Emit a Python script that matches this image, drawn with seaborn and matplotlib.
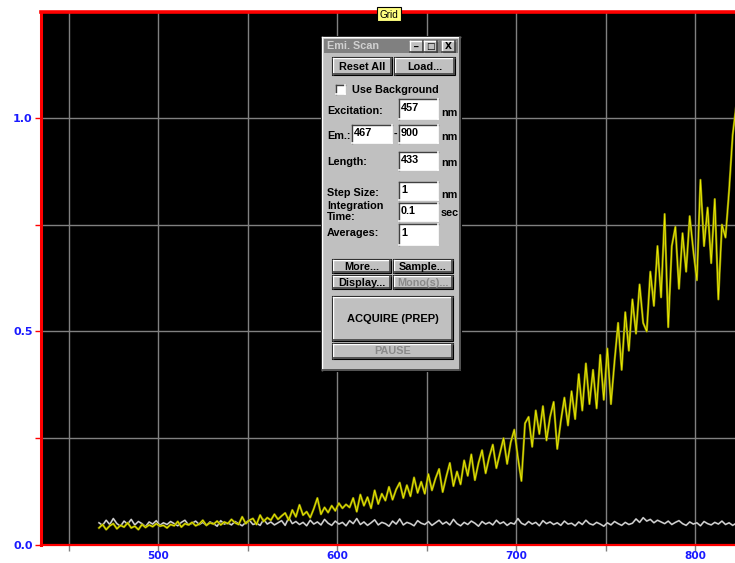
import matplotlib
matplotlib.use("Agg")
import matplotlib.pyplot as plt
from matplotlib.patches import Rectangle
from matplotlib.ticker import FixedLocator, FixedFormatter
import seaborn as sns
import pandas as pd

# ---------------- data ----------------
wavelength = list(range(467, 824, 2))

sample = [
    0.040, 0.048, 0.036, 0.045, 0.050, 0.038, 0.046, 0.042, 0.052, 0.040,
    0.044, 0.036, 0.048, 0.041, 0.047, 0.043, 0.050, 0.044, 0.046, 0.040,
    0.048, 0.045, 0.055, 0.042, 0.050, 0.047, 0.053, 0.045, 0.049, 0.058,
    0.046, 0.052, 0.049, 0.056, 0.047, 0.054, 0.050, 0.060, 0.052, 0.048,
    0.066, 0.050, 0.058, 0.062, 0.048, 0.070, 0.055, 0.064, 0.058, 0.072,
    0.060, 0.068, 0.075, 0.058, 0.082, 0.066, 0.094, 0.070, 0.078, 0.064,
    0.085, 0.110, 0.072, 0.088, 0.076, 0.092, 0.080, 0.098, 0.086, 0.095,
    0.088, 0.110, 0.078, 0.118, 0.092, 0.112, 0.086, 0.128, 0.096, 0.120,
    0.104, 0.136, 0.106, 0.130, 0.146, 0.110, 0.140, 0.114, 0.158, 0.122,
    0.148, 0.120, 0.166, 0.128, 0.156, 0.178, 0.124, 0.160, 0.192, 0.138,
    0.172, 0.142, 0.198, 0.162, 0.212, 0.152, 0.192, 0.222, 0.168, 0.206,
    0.235, 0.180, 0.215, 0.250, 0.190, 0.240, 0.270, 0.205, 0.150, 0.285,
    0.300, 0.230, 0.315, 0.260, 0.325, 0.245, 0.300, 0.335, 0.225, 0.290,
    0.345, 0.280, 0.360, 0.295, 0.400, 0.315, 0.425, 0.330, 0.410, 0.320,
    0.445, 0.340, 0.460, 0.330, 0.430, 0.520, 0.410, 0.545, 0.455, 0.575,
    0.495, 0.610, 0.520, 0.500, 0.640, 0.560, 0.700, 0.580, 0.775, 0.510,
    0.700, 0.745, 0.600, 0.730, 0.640, 0.770, 0.690, 0.620, 0.855, 0.700,
    0.790, 0.660, 0.810, 0.575, 0.750, 0.720, 0.830, 0.960, 1.030,
]

background = [
    0.052, 0.046, 0.058, 0.048, 0.062, 0.050, 0.044, 0.056, 0.049, 0.060,
    0.047, 0.055, 0.050, 0.043, 0.054, 0.049, 0.057, 0.046, 0.052, 0.048,
    0.055, 0.050, 0.045, 0.053, 0.058, 0.047, 0.051, 0.056, 0.048, 0.053,
    0.046, 0.054, 0.050, 0.044, 0.057, 0.049, 0.052, 0.047, 0.055, 0.050,
    0.045, 0.053, 0.058, 0.048, 0.051, 0.046, 0.060, 0.049, 0.054, 0.047,
    0.052, 0.057, 0.046, 0.064, 0.050, 0.055, 0.048, 0.053, 0.045, 0.058,
    0.049, 0.054, 0.047, 0.060, 0.051, 0.046, 0.056, 0.049, 0.053, 0.045,
    0.057, 0.050, 0.062, 0.048, 0.054, 0.046, 0.052, 0.059, 0.047, 0.053,
    0.050, 0.044, 0.056, 0.049, 0.061, 0.047, 0.053, 0.050, 0.045, 0.057,
    0.051, 0.048, 0.055, 0.046, 0.052, 0.058, 0.049, 0.054, 0.047, 0.060,
    0.050, 0.045, 0.053, 0.048, 0.056, 0.051, 0.044, 0.055, 0.049, 0.053,
    0.047, 0.058, 0.050, 0.054, 0.046, 0.052, 0.049, 0.062, 0.051, 0.047,
    0.055, 0.049, 0.053, 0.045, 0.057, 0.050, 0.054, 0.048, 0.052, 0.046,
    0.056, 0.049, 0.051, 0.045, 0.054, 0.048, 0.058, 0.050, 0.047, 0.053,
    0.049, 0.044, 0.052, 0.047, 0.055, 0.050, 0.046, 0.053, 0.048, 0.051,
    0.061, 0.053, 0.064, 0.056, 0.060, 0.052, 0.058, 0.054, 0.050, 0.056,
    0.048, 0.053, 0.057, 0.050, 0.046, 0.054, 0.049, 0.052, 0.045, 0.055,
    0.050, 0.047, 0.053, 0.049, 0.056, 0.048, 0.052, 0.046, 0.051,
]

x_major = [500, 600, 700, 800]
x_minor = [450, 550, 650, 750]
x_labels = ["500", "600", "700", "800"]
y_major = [0.0, 0.5, 1.0]
y_minor = [0.25, 0.75]
y_labels = ["0.0", "0.5", "1.0"]

# ---------------- figure ----------------
W, H = 735, 563
fig = plt.figure(figsize=(W / 100, H / 100), dpi=100)
fig.patch.set_facecolor("white")

ax = fig.add_axes([41 / W, 18 / H, (W - 41) / W, 533 / H])
ax.set_facecolor("black")

df = pd.DataFrame({"wl": wavelength, "sample": sample, "bg": background})
sns.lineplot(data=df, x="wl", y="bg", ax=ax, color="#9c9c9c", lw=1.3, zorder=3)
sns.lineplot(data=df, x="wl", y="bg", ax=ax, color="#e8e8e8", lw=0.5, zorder=3)
sns.lineplot(data=df, x="wl", y="sample", ax=ax, color="#8c8c00", lw=1.6, zorder=4)
sns.lineplot(data=df, x="wl", y="sample", ax=ax, color="#eeee00", lw=0.6, zorder=5)

ax.set_xlim(434.6, 822.3)
ax.set_ylim(0, 1.248)
ax.xaxis.set_major_locator(FixedLocator(x_major))
ax.xaxis.set_major_formatter(FixedFormatter(x_labels))
ax.xaxis.set_minor_locator(FixedLocator(x_minor))
ax.yaxis.set_major_locator(FixedLocator(y_major))
ax.yaxis.set_major_formatter(FixedFormatter(y_labels))
ax.yaxis.set_minor_locator(FixedLocator(y_minor))
ax.grid(True, which="both", color="#808080", lw=1.0, zorder=1)
ax.set_axisbelow(True)
ax.set_xlabel("")
ax.set_ylabel("")

ax.spines["right"].set_visible(False)
ax.spines["left"].set_color("#ff0000")
ax.spines["left"].set_linewidth(2.2)
ax.spines["top"].set_color("#ff0000")
ax.spines["top"].set_linewidth(2.6)
ax.spines["bottom"].set_color("#ff0000")
ax.spines["bottom"].set_linewidth(1.6)

ax.tick_params(axis="x", which="both", colors="#808080", length=4, width=1, direction="out",
               labelcolor="#1a1aff", labelsize=7.6, pad=0.5)
ax.tick_params(axis="y", which="both", colors="#ff0000", length=4, width=1, direction="out",
               labelcolor="#1a1aff", labelsize=8, pad=2)
for lab in ax.get_xticklabels() + ax.get_yticklabels():
    lab.set_fontweight("bold")
    lab.set_family("DejaVu Sans")

# ---------------- overlay (dialog and "Grid" tag) ----------------
ov = fig.add_axes([0, 0, 1, 1], zorder=10)
ov.set_xlim(0, W)
ov.set_ylim(H, 0)
ov.axis("off")
ov.patch.set_alpha(0)

FONT = dict(family=["Liberation Sans", "DejaVu Sans"], fontweight="bold", fontsize=7.8)
GRAY = "#c0c0c0"


def rect(x0, y0, x1, y1, fc, ec="none", lw=0):
    ov.add_patch(Rectangle((x0, y0), x1 - x0, y1 - y0, facecolor=fc, edgecolor=ec, linewidth=lw))


def bevel(x0, y0, x1, y1, raised=True):
    light, dark = ("white", "#404040") if raised else ("#404040", "white")
    ov.plot([x0, x1], [y0, y0], color=light, lw=1)
    ov.plot([x0, x0], [y0, y1], color=light, lw=1)
    ov.plot([x0, x1], [y1, y1], color=dark, lw=1.2)
    ov.plot([x1, x1], [y0, y1], color=dark, lw=1.2)


def button(x0, y0, x1, y1, text, enabled=True, size=7.8):
    rect(x0, y0, x1, y1, GRAY, ec="black", lw=0.8)
    bevel(x0 + 1, y0 + 1, x1 - 1, y1 - 1, raised=True)
    f = dict(FONT)
    f["fontsize"] = size
    ov.text((x0 + x1) / 2, (y0 + y1) / 2 + 0.5, text, ha="center", va="center",
            color="black" if enabled else "#8a8a8a", **f)


def field(x0, y0, x1, y1, value):
    rect(x0, y0, x1, y1, "white")
    bevel(x0, y0, x1, y1, raised=False)
    ov.text(x0 + 2, (y0 + y1) / 2 - 1, value, ha="left", va="center", color="black", **FONT)


def label(x, y, s, ha="left"):
    ov.text(x, y, s, ha=ha, va="center", color="black", **FONT)


# dialog body
rect(321, 36, 461, 371, GRAY, ec="black", lw=0.8)
bevel(322, 37, 460, 370, raised=True)
# title bar
rect(324, 39, 458, 53, "#808080")
ov.text(327, 46, "Emi. Scan", ha="left", va="center", color="#d0d0d0", **FONT)
for bx0, sym in [(410, "_"), (424, "□"), (442, "X")]:
    rect(bx0, 40.5, bx0 + 13, 51.5, GRAY)
    bevel(bx0, 40.5, bx0 + 13, 51.5)
    ov.text(bx0 + 6.5, 46.5 if sym != "_" else 44, sym, ha="center", va="center",
            color="black", family=["DejaVu Sans"], fontweight="bold", fontsize=6.5)

button(332, 57, 392, 75, "Reset All")
button(394, 57, 455, 75, "Load...")

# checkbox
rect(336, 85, 345, 94, "white")
bevel(336, 85, 345, 94, raised=False)
label(352, 90, "Use Background")

label(327, 111, "Excitation:")
field(399, 99, 438, 119, "457")
label(441, 113, "nm")

label(327, 136, "Em.:")
field(352, 125, 392, 143, "467")
label(393.5, 134, "-")
field(399, 125, 438, 143, "900")
label(441, 137.5, "nm")

label(327, 162, "Length:")
field(399, 152, 438, 170, "433")
label(441, 163.5, "nm")

label(327, 193, "Step Size:")
field(399, 182, 438, 200, "1")
label(441, 195, "nm")

label(327, 206, "Integration")
label(327, 217, "Time:")
field(399, 203, 438, 221, "0.1")
label(441, 212.5, "sec")

label(327, 233.5, "Averages:")
field(399, 224, 438, 245, "1")

button(332, 259, 391, 273, "More...")
button(393, 259, 453, 273, "Sample...")
button(332, 275, 391, 289, "Display...")
button(393, 275, 453, 289, "Mono(s)...", enabled=False)
button(332, 296, 453, 341, "ACQUIRE (PREP)", size=8)
button(332, 343, 453, 359, "PAUSE", enabled=False)

# "Grid" tag
rect(377, 7, 401, 21, "#ffff80", ec="black", lw=0.8)
ov.text(389, 14.5, "Grid", ha="center", va="center", color="black",
        family=["Liberation Sans", "DejaVu Sans"], fontsize=7.2)

fig.savefig("out.png", dpi=100, facecolor="white")
